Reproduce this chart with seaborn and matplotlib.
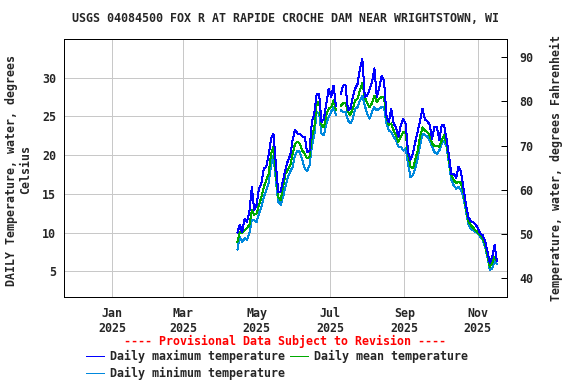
import numpy as np
import pandas as pd
import matplotlib
matplotlib.use("Agg")
import matplotlib.pyplot as plt
from matplotlib.lines import Line2D
import seaborn as sns

sns.set_style("white")
plt.rcParams['font.family'] = ['DejaVu Sans Mono']
plt.rcParams['font.weight'] = 'bold'
plt.rcParams['lines.antialiased'] = False

# ---- data (every second day, starting 2025-04-15), degrees Celsius ----
start_date = "2025-04-15"
t_max = [10.0, 11.0, 10.1, 11.8, 11.4, 12.7, 15.9, 12.9, 13.6, 15.7,
         16.4, 18.3, 18.5, 20.0, 22.1, 22.8, 18.9, 15.3, 15.3, 16.8,
         18.1, 19.3, 20.0, 22.0, 23.3, 22.8, 22.8, 22.4, 22.4, 20.4,
         20.6, 24.3, 25.4, 27.9, 27.9, 24.3, 24.7, 26.7, 28.6, 27.5,
         29.0, 26.4, np.nan, 27.9, 29.0, 29.0, 25.8, 26.0, 27.5, 28.6,
         29.2, 31.2, 32.4, 27.5, 27.7, 28.5, 29.4, 31.2, 27.5, 28.7,
         30.2, 29.7, 25.2, 24.3, 26.0, 24.1, 23.6, 22.4, 23.9, 24.7,
         24.1, 20.4, 19.4, 20.2, 21.7, 23.0, 24.5, 26.0, 24.6, 24.4,
         23.9, 22.1, 23.7, 23.7, 21.9, 23.9, 23.9, 22.1, 20.0, 17.6,
         17.6, 17.1, 18.5, 17.9, 15.9, 13.8, 12.1, 11.5, 11.4, 11.1,
         10.6, 9.9, 9.7, 9.0, 7.6, 6.1, 6.9, 8.4, 6.3]
t_mean = [8.8, 10.1, 10.0, 10.3, 10.6, 11.0, 12.9, 12.3, 12.5, 13.6,
          14.6, 15.9, 16.8, 17.6, 20.2, 21.1, 17.6, 14.6, 14.2, 15.9,
          17.6, 18.1, 18.7, 20.2, 21.5, 21.7, 21.5, 20.6, 20.2, 19.6,
          19.8, 22.4, 23.6, 26.7, 26.9, 23.9, 23.6, 25.2, 26.0, 26.2,
          27.1, 25.8, np.nan, 26.4, 26.7, 26.7, 25.6, 25.2, 26.0, 27.1,
          27.3, 28.4, 29.3, 27.5, 26.7, 26.2, 26.7, 27.7, 26.9, 27.3,
          27.5, 27.5, 24.9, 23.9, 24.1, 23.2, 22.6, 21.7, 22.4, 23.0,
          22.8, 20.2, 18.5, 18.3, 19.4, 20.6, 22.4, 23.6, 23.2, 23.0,
          22.6, 21.5, 21.2, 21.2, 21.1, 21.9, 22.6, 21.5, 19.4, 17.4,
          16.8, 16.4, 16.6, 16.4, 15.3, 13.3, 11.6, 11.0, 10.7, 10.3,
          10.1, 9.7, 9.3, 8.6, 7.1, 5.6, 6.1, 6.9, 6.3]
t_min = [7.8, 9.5, 8.8, 9.3, 9.1, 9.9, 11.6, 11.6, 11.4, 12.5,
         13.3, 14.6, 15.5, 16.4, 18.7, 20.0, 16.8, 14.0, 13.6, 14.6,
         15.9, 17.2, 17.9, 18.5, 20.0, 20.6, 20.4, 19.4, 18.3, 17.9,
         18.7, 21.1, 22.6, 25.6, 25.4, 22.8, 22.6, 24.1, 24.9, 25.6,
         26.2, 25.2, np.nan, 25.8, 25.6, 25.6, 24.5, 24.1, 24.7, 26.0,
         26.2, 27.1, 27.7, 26.4, 25.4, 24.7, 25.6, 26.2, 25.8, 26.0,
         26.2, 26.2, 24.1, 23.2, 23.0, 22.4, 21.9, 21.1, 21.1, 20.6,
         20.9, 18.9, 17.2, 17.4, 18.3, 19.6, 21.3, 22.8, 22.6, 22.4,
         21.9, 21.1, 20.4, 20.2, 20.6, 21.5, 21.9, 21.1, 18.9, 16.8,
         16.1, 15.7, 15.9, 15.5, 14.6, 12.9, 11.2, 10.6, 10.3, 10.1,
         9.9, 9.5, 9.1, 8.2, 6.9, 5.2, 5.4, 6.3, 6.0]

series_names = ["Daily maximum temperature", "Daily mean temperature",
                "Daily minimum temperature"]
series_colors = ["#0000ff", "#00aa00", "#0088dd"]
tick_dates = ["2025-01-01", "2025-03-01", "2025-05-01", "2025-07-01",
              "2025-09-01", "2025-11-01"]
tick_labels = ["Jan\n2025", "Mar\n2025", "May\n2025", "Jul\n2025",
               "Sep\n2025", "Nov\n2025"]
left_ticks = [5, 10, 15, 20, 25, 30]
right_ticks = [40, 50, 60, 70, 80, 90]

title = "USGS 04084500 FOX R AT RAPIDE CROCHE DAM NEAR WRIGHTSTOWN, WI"

FS = 8.4
LW = 0.72  # one pixel

# ---- build long table ----
dates = pd.date_range(start_date, periods=len(t_max), freq="2D")
frames = []
for name, vals in zip(series_names, [t_max, t_mean, t_min]):
    v = np.array(vals, dtype=float)
    seg = np.cumsum(np.isnan(v))
    frames.append(pd.DataFrame({"date": dates, "temp": v, "series": name, "seg": seg}))
df = pd.concat(frames, ignore_index=True).dropna()
df["unit"] = df["series"] + df["seg"].astype(str)

fig = plt.figure(figsize=(5.76, 3.84), dpi=100)
ax = fig.add_axes([64.3 / 576, 1 - 297 / 384, (506.6 - 64.3) / 576, (297 - 39) / 384])

order = [series_names[2], series_names[1], series_names[0]]
sns.lineplot(data=df, x="date", y="temp", hue="series", units="unit",
             estimator=None, hue_order=order,
             palette=dict(zip(series_names, series_colors)),
             linewidth=LW, legend=False, ax=ax, sort=True)

ax.set_xlim(pd.Timestamp("2024-11-22"), pd.Timestamp("2025-11-25"))
ax.set_ylim(1.7, 35.0)
ax.set_xticks(pd.to_datetime(tick_dates))
ax.set_xticklabels(tick_labels, fontsize=FS, fontweight='bold', linespacing=1.2)
ax.set_yticks(left_ticks)
ax.set_yticklabels([str(t) for t in left_ticks], fontsize=FS, fontweight='bold')
ax.tick_params(axis='both', length=0)
ax.tick_params(axis='x', pad=7)
ax.tick_params(axis='y', pad=6)
ax.grid(True, color="#c8c8c8", linewidth=LW)
ax.set_xlabel("")
ax.set_ylabel("")
for s in ax.spines.values():
    s.set_color("black")
    s.set_linewidth(LW)

ax2 = ax.twinx()
ax2.set_ylim(35.7, 94.15)
ax2.set_yticks(right_ticks)
ax2.set_yticklabels([str(t) for t in right_ticks], fontsize=FS, fontweight='bold')
ax2.tick_params(axis='y', direction='in', length=4, width=LW, pad=9, color='black')
ax2.grid(False)
for s in ax2.spines.values():
    s.set_color("black")
    s.set_linewidth(LW)

fig.text(285.5 / 576, 1 - 19 / 384, title, ha='center', va='center',
         fontsize=FS, fontweight='bold')
fig.text(18.5 / 576, 1 - 170 / 384, "DAILY Temperature, water, degrees\nCelsius",
         rotation=90, ha='center', va='center', fontsize=FS, fontweight='bold',
         multialignment='center', linespacing=1.1)
fig.text(556 / 576, 1 - 168 / 384, "Temperature, water, degrees Fahrenheit",
         rotation=90, ha='center', va='center', fontsize=FS, fontweight='bold')
fig.text(285.5 / 576, 1 - 341 / 384, "---- Provisional Data Subject to Revision ----",
         ha='center', va='center', fontsize=FS, fontweight='bold', color='red')

handles = [Line2D([0], [0], color=series_colors[0], lw=LW),
           Line2D([0], [0], color=series_colors[2], lw=LW),
           Line2D([0], [0], color=series_colors[1], lw=LW)]
labels = [series_names[0], series_names[2], series_names[1]]
fig.legend(handles, labels, loc='upper left', bbox_to_anchor=(86 / 576, 1 - 350 / 384),
           ncol=2, frameon=False, prop={'size': FS, 'weight': 'bold'},
           handlelength=1.55, handletextpad=0.5, columnspacing=0.4,
           labelspacing=0.35, borderpad=0, borderaxespad=0)

fig.savefig("out.png", dpi=100)
